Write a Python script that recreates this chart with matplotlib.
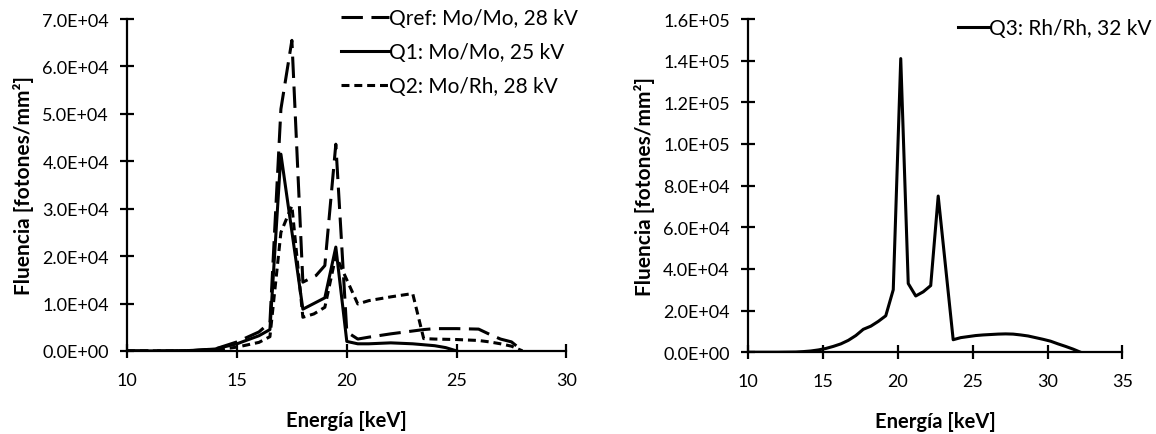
import matplotlib
matplotlib.use("Agg")
import matplotlib.pyplot as plt
from matplotlib.ticker import FuncFormatter

plt.rcParams['font.family'] = ['Lato', 'DejaVu Sans']

# energia [keV] y fluencia [fotones/mm2]
e_ref = [10, 12, 13, 14, 15, 16, 16.5, 17.0, 17.4, 17.5, 18.0, 18.6, 19.0, 19.5, 20.0, 20.5,
         21.0, 22.0, 23.0, 23.5, 24.0, 25.0, 26.0, 26.5, 27.0, 27.5, 28.0]
f_ref = [0, 0, 100, 400, 1900, 4000, 6000, 51000, 62600, 65500, 14500, 15900, 18000, 43600, 4000, 2500,
         2900, 3600, 4200, 4500, 4700, 4700, 4600, 3500, 2500, 1900, 0]

e_q1 = [10, 12, 13, 14, 15, 16, 16.5, 17.0, 18.0, 19.0, 19.5, 20.0, 20.5, 21.0, 22.0, 23.0, 24.0, 24.5, 25.0]
f_q1 = [0, 0, 100, 400, 1500, 3200, 4500, 41500, 8800, 11200, 21900, 2000, 1500, 1500, 1700, 1500, 1100, 700, 0]

e_q2 = [10, 12, 13, 14, 15, 16, 16.5, 17.0, 17.5, 18.0, 18.5, 19.0, 19.5, 20.0, 20.5, 21.0, 22.0, 23.0,
        23.5, 24.0, 25.0, 26.0, 26.5, 27.0, 27.5, 28.0]
f_q2 = [0, 0, 50, 200, 800, 1800, 3000, 25000, 30600, 7100, 7800, 9200, 20100, 15000, 9900, 10600, 11400, 12100,
        2600, 2500, 2400, 2200, 1900, 1500, 1000, 0]

e_q3 = [10, 12, 13.2, 13.7, 14.2, 14.7, 15.2, 15.7, 16.2, 16.7, 17.2, 17.7, 18.2, 18.7, 19.2, 19.7, 20.2,
        20.7, 21.2, 21.7, 22.2, 22.7, 23.7, 24.2, 24.7, 25.2, 25.7, 26.2, 26.7, 27.2, 27.7, 28.2,
        28.7, 29.2, 29.7, 30.2, 30.7, 31.2, 31.7, 32.2]
f_q3 = [0, 0, 100, 300, 600, 1100, 1800, 2800, 4000, 5700, 8000, 11000, 12500, 14800, 17500, 30000, 141000,
        33000, 27000, 29000, 32000, 75000, 6000, 7000, 7500, 8000, 8300, 8500, 8700, 8800, 8700, 8300,
        7800, 7000, 6200, 5300, 4000, 2800, 1500, 0]


def sci(v, pos):
    return '%.1E' % v


fig = plt.figure(figsize=(11.56, 4.35), dpi=100)
ax1 = fig.add_axes([0.110, 0.191, 0.380, 0.763])
ax2 = fig.add_axes([0.647, 0.188, 0.324, 0.766])

lw = 2.2
ax1.plot(e_ref, f_ref, color='black', lw=lw, dashes=(7, 2.8), label='Qref: Mo/Mo, 28 kV')
ax1.plot(e_q1, f_q1, color='black', lw=lw, label='Q1: Mo/Mo, 25 kV')
ax1.plot(e_q2, f_q2, color='black', lw=lw, dashes=(2.6, 1.6), label='Q2: Mo/Rh, 28 kV')
ax1.set_xlim(10, 30)
ax1.set_ylim(0, 70000)
ax1.set_xticks([10, 15, 20, 25, 30])
ax1.set_yticks(range(0, 70001, 10000))

ax2.plot(e_q3, f_q3, color='black', lw=lw, label='Q3: Rh/Rh, 32 kV')
ax2.set_xlim(10, 35)
ax2.set_ylim(0, 160000)
ax2.set_xticks([10, 15, 20, 25, 30, 35])
ax2.set_yticks(range(0, 160001, 20000))

for ax in (ax1, ax2):
    ax.yaxis.set_major_formatter(FuncFormatter(sci))
    for s in ('top', 'right'):
        ax.spines[s].set_visible(False)
    for s in ('left', 'bottom'):
        ax.spines[s].set_linewidth(1.6)
    ax.tick_params(direction='inout', length=10, width=1.6, labelsize=13, colors='black', pad=8)
    ax.tick_params(axis='x', pad=10)
    ax.set_xlabel('Energía [keV]', fontsize=14.5, fontweight='bold', labelpad=16)
    ax.set_ylabel('Fluencia [fotones/mm²]', fontsize=15, fontweight='bold', labelpad=6)

ax1.legend(loc='upper right', bbox_to_anchor=(0.5, 0.979), bbox_transform=fig.transFigure,
           frameon=False, fontsize=15, handlelength=2.3, handletextpad=0.0,
           labelspacing=0.68, borderaxespad=0.0, borderpad=0.0)
ax2.legend(loc='upper right', bbox_to_anchor=(0.996, 0.956), bbox_transform=fig.transFigure,
           frameon=False, fontsize=15, handlelength=1.5, handletextpad=0.0,
           labelspacing=0.5, borderaxespad=0.0, borderpad=0.0)

fig.savefig('out.png', dpi=100)
